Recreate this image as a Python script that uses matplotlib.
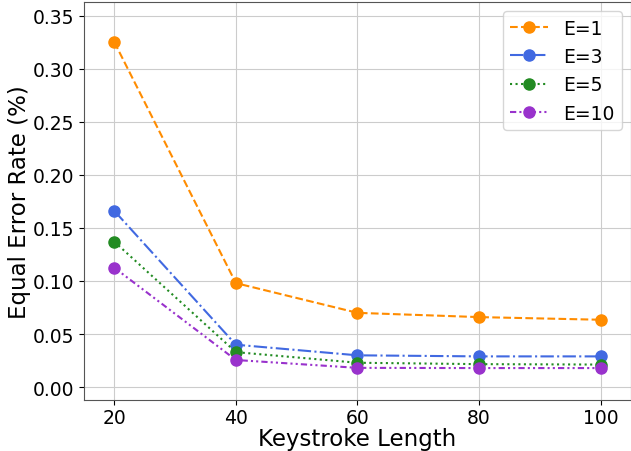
import matplotlib
matplotlib.use("Agg")
import matplotlib.pyplot as plt

lengths = [20, 40, 60, 80, 100]
eer_e1 = [0.325, 0.098, 0.070, 0.066, 0.0635]
eer_e3 = [0.166, 0.040, 0.030, 0.029, 0.029]
eer_e5 = [0.137, 0.033, 0.023, 0.0217, 0.0213]
eer_e10 = [0.1125, 0.0256, 0.0182, 0.018, 0.018]

series = [
    ("E=1", eer_e1, "darkorange", "--"),
    ("E=3", eer_e3, "royalblue", "-."),
    ("E=5", eer_e5, "forestgreen", ":"),
    ("E=10", eer_e10, "darkorchid", (0, (3, 1.5, 1, 1.5, 1, 1.5))),
]

fig, ax = plt.subplots(figsize=(6.31, 4.52), dpi=100)
fig.subplots_adjust(left=0.133, right=1.0, bottom=0.113, top=0.994)

for label, vals, color, ls in series:
    ax.plot(lengths, vals, linestyle=ls, marker="o", color=color,
            markersize=8, linewidth=1.5, label=label)

ax.set_xlim(15, 105)
ax.set_ylim(-0.012, 0.363)
ax.set_xticks(lengths)
ax.tick_params(labelsize=13.5)
ax.tick_params(axis="x", pad=2.5)
ax.grid(True, color="#cccccc", linewidth=0.8)
ax.set_axisbelow(True)
for s in ax.spines.values():
    s.set_color("#555555")

ax.set_xlabel("Keystroke Length", fontsize=16.5, labelpad=0)
ax.set_ylabel("Equal Error Rate (%)", fontsize=16.5, labelpad=1)
ax.legend(fontsize=13.5, loc="upper right", handlelength=2.0)

fig.savefig("out.png")
